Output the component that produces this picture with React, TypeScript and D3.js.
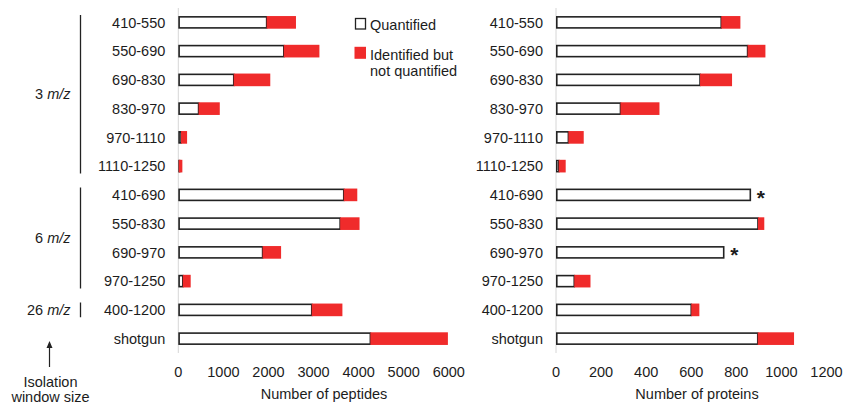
import React from "react";
import * as d3 from "d3";

// Isolation windows (m/z ranges) and the shotgun reference run
const categories = [
  "410-550", "550-690", "690-830", "830-970", "970-1110", "1110-1250",
  "410-690", "550-830", "690-970", "970-1250", "400-1200", "shotgun",
];

// Peptide counts
const peptidesQuantified = [1960, 2340, 1230, 450, 60, 10, 3670, 3590, 1870, 100, 2960, 4260];
const peptidesNotQuantified = [650, 790, 810, 470, 135, 80, 300, 430, 410, 175, 680, 1720];

// Protein counts
const proteinsQuantified = [733, 850, 639, 286, 55, 12, 862, 896, 744, 81, 600, 895];
const proteinsNotQuantified = [85, 79, 142, 173, 68, 31, 0, 28, 0, 72, 36, 161];

// Rows flagged with an asterisk in the protein panel
const proteinStarred = ["410-690", "690-970"];

// Isolation window size groups
const windowGroups = [
  { size: "3", first: "410-550", last: "1110-1250" },
  { size: "6", first: "410-690", last: "970-1250" },
  { size: "26", first: "400-1200", last: "400-1200" },
];

const peptideTicks = [0, 1000, 2000, 3000, 4000, 5000, 6000];
const proteinTicks = [0, 200, 400, 600, 800, 1000, 1200];

const W = 843;
const H = 404;
const FONT = "'Liberation Sans', Arial, sans-serif";
const TEXT = "#1c1c1c";
const RED = "#f02b2b";
const FS = 14.5;

const y = d3.scaleBand<string>().domain(categories).range([8, 353]).paddingInner(0.56).paddingOuter(0.28);

type PanelProps = {
  x0: number;
  max: number;
  ticks: number[];
  quantified: number[];
  notQuantified: number[];
  title: string;
  titleX: number;
  starred?: string[];
};

function Panel({ x0, max, ticks, quantified, notQuantified, title, titleX, starred = [] }: PanelProps) {
  const x = d3.scaleLinear().domain([0, max]).range([x0, x0 + 270.5]);
  const bw = y.bandwidth();
  const sw = 1.6;
  return (
    <g>
      <line x1={x(0)} x2={x(0)} y1={8} y2={353} stroke="#d6d6d6" strokeWidth={1} />
      {categories.map((c, i) => {
        const top = y(c)!;
        const q = quantified[i];
        const n = notQuantified[i];
        const mid = top + bw / 2;
        return (
          <g key={c}>
            <text x={x0 - 13} y={mid + 5.3} textAnchor="end" fontSize={FS} fontFamily={FONT} fill={TEXT}>
              {c}
            </text>
            {q > 0 && (
              <rect
                x={x(0) + sw / 2}
                y={top + sw / 2}
                width={Math.max(x(q) - x(0) - sw / 2, 0.5)}
                height={bw - sw}
                fill="#ffffff"
                stroke="#222"
                strokeWidth={sw}
              />
            )}
            {n > 0 && (
              <rect x={x(q)} y={top} width={x(q + n) - x(q)} height={bw} fill={RED} />
            )}
            {starred.includes(c) && (
              <text
                x={x(q + n) + 6.5}
                y={mid + 10}
                fontSize={21}
                fontWeight="bold"
                fontFamily={FONT}
                fill={TEXT}
              >
                *
              </text>
            )}
          </g>
        );
      })}
      {ticks.map((t) => (
        <text key={t} x={x(t)} y={376.5} textAnchor="middle" fontSize={FS} fontFamily={FONT} fill={TEXT}>
          {t}
        </text>
      ))}
      <text x={titleX} y={399} textAnchor="middle" fontSize={FS} fontFamily={FONT} fill={TEXT}>
        {title}
      </text>
    </g>
  );
}

export default function App() {
  const inset = 7;
  return (
    <svg
      width={W}
      height={H}
      viewBox={`0 0 ${W} ${H}`}
      style={{ position: "absolute", left: 0, top: 0, background: "#fff" }}
    >
      <rect width={W} height={H} fill="#fff" />
      <Panel
        x0={178.3}
        max={6000}
        ticks={peptideTicks}
        quantified={peptidesQuantified}
        notQuantified={peptidesNotQuantified}
        title="Number of peptides"
        titleX={324}
      />
      <Panel
        x0={556}
        max={1200}
        ticks={proteinTicks}
        quantified={proteinsQuantified}
        notQuantified={proteinsNotQuantified}
        title="Number of proteins"
        titleX={697}
        starred={proteinStarred}
      />

      {/* window size group brackets */}
      {windowGroups.map((g) => {
        const y1 = y(g.first)! - y.step() * 0.28 + inset;
        const y2 = y(g.last)! + y.bandwidth() + y.step() * 0.28 - inset;
        const cy = (y1 + y2) / 2;
        return (
          <g key={g.size}>
            <line x1={80.5} x2={80.5} y1={y1} y2={y2} stroke="#222" strokeWidth={1.3} />
            <text x={70.5} y={cy + 5} textAnchor="end" fontSize={FS} fontFamily={FONT} fill={TEXT}>
              {g.size} <tspan fontStyle="italic">m/z</tspan>
            </text>
          </g>
        );
      })}

      {/* isolation window size arrow */}
      <line x1={49.5} x2={49.5} y1={367} y2={346} stroke="#222" strokeWidth={1.2} />
      <path d="M49.5,341 L46.5,348 L52.5,348 Z" fill="#222" />
      <text x={50.5} y={386.5} textAnchor="middle" fontSize={FS} fontFamily={FONT} fill={TEXT}>
        Isolation
      </text>
      <text x={50.5} y={401.5} textAnchor="middle" fontSize={FS} fontFamily={FONT} fill={TEXT}>
        window size
      </text>

      {/* legend */}
      <rect x={355.5} y={18.5} width={10} height={10.5} fill="#fff" stroke="#222" strokeWidth={1.3} />
      <text x={370} y={29.5} fontSize={FS} fontFamily={FONT} fill={TEXT}>
        Quantified
      </text>
      <rect x={354.5} y={46.8} width={11.5} height={12} fill={RED} />
      <text x={370} y={60} fontSize={FS} fontFamily={FONT} fill={TEXT}>
        Identified but
      </text>
      <text x={370} y={75.5} fontSize={FS} fontFamily={FONT} fill={TEXT}>
        not quantified
      </text>
    </svg>
  );
}
